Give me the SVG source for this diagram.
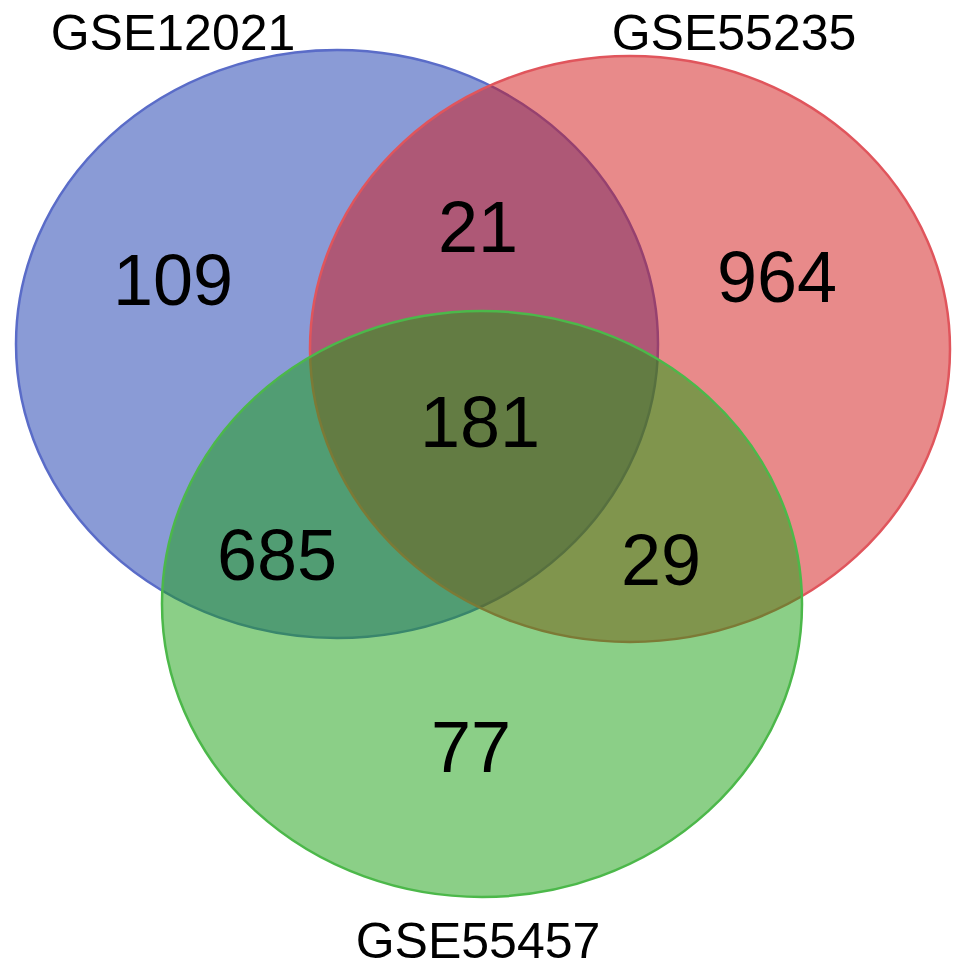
<svg xmlns="http://www.w3.org/2000/svg" width="969" height="970" viewBox="0 0 969 970">
<style>
.set{stroke-width:2.5;fill-opacity:0.5}
.lbl{font-family:"Liberation Sans",Arial,sans-serif;font-size:50px;fill:#000;text-anchor:middle}
.num{font-family:"Liberation Sans",Arial,sans-serif;font-size:72px;fill:#000;text-anchor:middle}
</style>
<rect width="969" height="970" fill="#fff"/>
<g id="set-GSE12021">
<ellipse class="set" cx="337" cy="344" rx="321" ry="294" fill="#1537ad" stroke="#5a6cc8"/>
</g>
<g id="set-GSE55235">
<ellipse class="set" cx="630" cy="349" rx="320" ry="293" fill="#d11515" stroke="#e0555c"/>
</g>
<g id="set-GSE55457">
<ellipse class="set" cx="482" cy="604" rx="320" ry="293" fill="#179f0f" stroke="#4cb84a"/>
</g>
<g id="labels">
<text class="lbl" x="173" y="50">GSE12021</text>
<text class="lbl" x="734" y="50">GSE55235</text>
<text class="lbl" x="478" y="958">GSE55457</text>
</g>
<g id="counts">
<text class="num" x="173" y="305">109</text>
<text class="num" x="478" y="252">21</text>
<text class="num" x="777" y="302">964</text>
<text class="num" x="480" y="447">181</text>
<text class="num" x="277" y="580">685</text>
<text class="num" x="661" y="585">29</text>
<text class="num" x="471" y="772">77</text>
</g>
</svg>
